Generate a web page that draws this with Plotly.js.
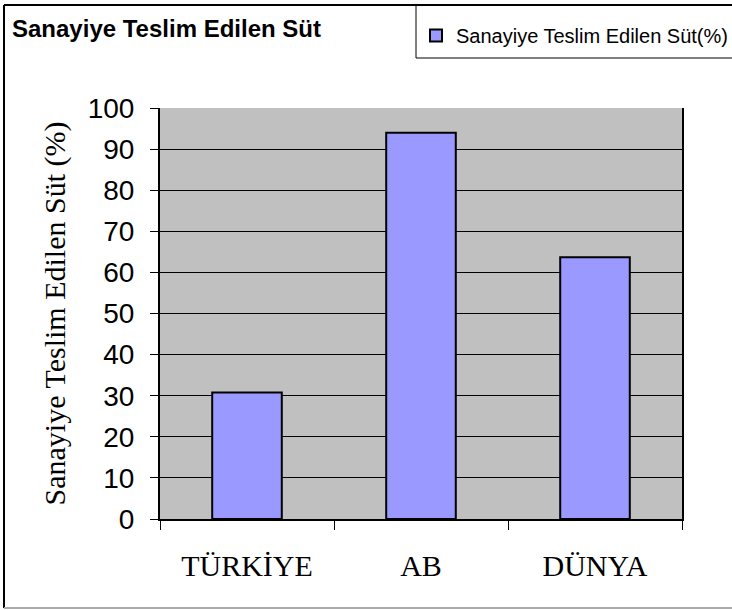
<!DOCTYPE html>
<html>
<head>
<meta charset="utf-8">
<script src="https://cdn.plot.ly/plotly-3.0.1.min.js"></script>
<style>html,body{margin:0;padding:0;background:#fff;}#chart{width:732px;height:610px;}</style>
</head>
<body>
<div id="chart"></div>
<script>
var categories = ["TÜRKİYE", "AB", "DÜNYA"];
var values = [30.8, 94, 63.7];
var seriesName = "Sanayiye Teslim Edilen Süt(%)";
var chartTitle = "Sanayiye Teslim Edilen Süt";
var yTitle = "Sanayiye Teslim Edilen Süt (%)";

var W = 732, H = 610;
var L = 160, R = 50, T = 108, B = 91;
var pw = W - L - R, ph = H - T - B;
function px(x) { return (x - L) / pw; }
function py(y) { return (H - B - y) / ph; }

var trace = {
  type: "bar",
  x: categories,
  y: values,
  name: seriesName,
  marker: { color: "#9999FF", line: { color: "#000000", width: 2 } },
  showlegend: true,
  hoverinfo: "x+y"
};

var layout = {
  width: W, height: H,
  margin: { l: L, r: R, t: T, b: B, pad: 0, autoexpand: false },
  paper_bgcolor: "#ffffff",
  plot_bgcolor: "#C0C0C0",
  bargap: 0.6,
  title: {
    text: "<b>" + chartTitle + "</b>",
    font: { family: "Liberation Sans, Arial, sans-serif", size: 24, color: "#000" },
    xref: "container", yref: "container",
    x: 12 / W, xanchor: "left",
    y: 1 - 29 / H, yanchor: "middle"
  },
  showlegend: true,
  legend: {
    x: px(416), xanchor: "left",
    y: py(16), yanchor: "top",
    bgcolor: "rgba(0,0,0,0)",
    borderwidth: 0,
    font: { family: "Liberation Sans, Arial, sans-serif", size: 20, color: "#000" }
  },
  xaxis: {
    type: "category",
    tickson: "boundaries",
    ticks: "outside", ticklen: 9, tickwidth: 1, tickcolor: "#000",
    showline: true, linecolor: "#000", linewidth: 2,
    showgrid: false,
    tickfont: { family: "Liberation Serif, Times New Roman, serif", size: 30, color: "#000" },
    ticklabelstandoff: 19,
    fixedrange: true
  },
  yaxis: {
    range: [0, 100],
    dtick: 10,
    tick0: 0,
    ticks: "outside", ticklen: 8, tickwidth: 1, tickcolor: "#000",
    showline: true, linecolor: "#000", linewidth: 2, mirror: true,
    showgrid: true, gridcolor: "#000", gridwidth: 1,
    zeroline: false,
    tickfont: { family: "Liberation Sans, Arial, sans-serif", size: 28, color: "#000" },
    ticklabelstandoff: 10,
    title: {
      text: yTitle,
      font: { family: "Liberation Serif, Times New Roman, serif", size: 30, color: "#000" },
      standoff: 13
    },
    automargin: false,
    fixedrange: true
  },
  shapes: [
    { type: "line", xref: "paper", yref: "paper", x0: px(4), x1: px(4), y0: py(5), y1: py(608), line: { color: "#000", width: 2 } },
    { type: "line", xref: "paper", yref: "paper", x0: px(4), x1: px(740), y0: py(5), y1: py(5), line: { color: "#000", width: 2 } },
    { type: "line", xref: "paper", yref: "paper", x0: px(4), x1: px(740), y0: py(608), y1: py(608), line: { color: "#aaaaaa", width: 2 } },
    { type: "line", xref: "paper", yref: "paper", x0: px(416), x1: px(416), y0: py(5), y1: py(58), line: { color: "#000", width: 1 } },
    { type: "line", xref: "paper", yref: "paper", x0: px(416), x1: px(740), y0: py(58), y1: py(58), line: { color: "#000", width: 1 } }
  ]
};

Plotly.newPlot("chart", [trace], layout, { displayModeBar: false, staticPlot: true });
</script>
</body>
</html>
